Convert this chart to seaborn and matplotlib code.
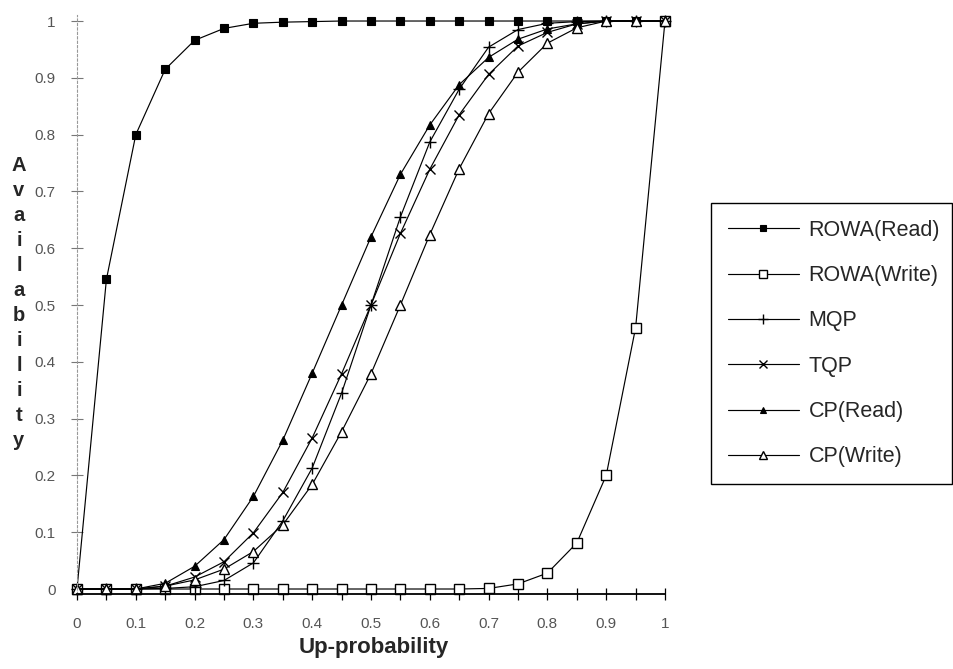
import matplotlib
matplotlib.use("Agg")
import matplotlib.pyplot as plt
import seaborn as sns
import pandas as pd
from matplotlib.ticker import MultipleLocator, FixedLocator

# ---- data ----
up_prob = [0.0, 0.05, 0.10, 0.15, 0.20, 0.25, 0.30, 0.35, 0.40, 0.45, 0.50,
           0.55, 0.60, 0.65, 0.70, 0.75, 0.80, 0.85, 0.90, 0.95, 1.0]

rowa_read = [0.0, 0.545, 0.80, 0.915, 0.966, 0.987, 0.996, 0.998, 0.999, 1.0, 1.0,
             1.0, 1.0, 1.0, 1.0, 1.0, 1.0, 1.0, 1.0, 1.0, 1.0]
rowa_write = [0.0, 0.0, 0.0, 0.0, 0.0, 0.0, 0.0, 0.0, 0.0, 0.0, 0.0,
              0.0, 0.0, 0.0, 0.001, 0.009, 0.028, 0.081, 0.20, 0.46, 1.0]
mqp = [0.0, 0.0, 0.0, 0.001, 0.004, 0.015, 0.046, 0.12, 0.213, 0.345, 0.50,
       0.655, 0.787, 0.88, 0.954, 0.985, 0.996, 0.999, 1.0, 1.0, 1.0]
tqp = [0.0, 0.0, 0.0, 0.005, 0.021, 0.048, 0.099, 0.17, 0.266, 0.379, 0.50,
       0.626, 0.739, 0.835, 0.906, 0.956, 0.98, 0.995, 1.0, 1.0, 1.0]
cp_read = [0.0, 0.0, 0.0, 0.01, 0.04, 0.087, 0.163, 0.262, 0.38, 0.50, 0.62,
           0.73, 0.817, 0.888, 0.936, 0.968, 0.986, 0.995, 1.0, 1.0, 1.0]
cp_write = [0.0, 0.0, 0.0, 0.005, 0.016, 0.035, 0.066, 0.113, 0.184, 0.277, 0.379,
            0.50, 0.624, 0.74, 0.837, 0.91, 0.961, 0.988, 1.0, 1.0, 1.0]

series_names = ["ROWA(Read)", "ROWA(Write)", "MQP", "TQP", "CP(Read)", "CP(Write)"]
series_values = [rowa_read, rowa_write, mqp, tqp, cp_read, cp_write]

x_tick_values = [0.0, 0.1, 0.2, 0.3, 0.4, 0.5, 0.6, 0.7, 0.8, 0.9, 1.0]
x_tick_labels = ["0", "0.1", "0.2", "0.3", "0.4", "0.5", "0.6", "0.7", "0.8", "0.9", "1"]
y_tick_values = [0.0, 0.1, 0.2, 0.3, 0.4, 0.5, 0.6, 0.7, 0.8, 0.9, 1.0]
y_tick_labels = ["0", "0.1", "0.2", "0.3", "0.4", "0.5", "0.6", "0.7", "0.8", "0.9", "1"]

x_title = "Up-probability"
y_title = "Availability"

# ---- styles ----
styles = {
    "ROWA(Read)":  dict(marker="s", ms=5.5, mfc="black", mec="black", mew=0.8),
    "ROWA(Write)": dict(marker="s", ms=7, mfc="white", mec="black", mew=1.0),
    "MQP":         dict(marker="+", ms=8, mfc="black", mec="black", mew=1.0),
    "TQP":         dict(marker="x", ms=7.5, mfc="black", mec="black", mew=1.0),
    "CP(Read)":    dict(marker="^", ms=5.5, mfc="black", mec="black", mew=0.8),
    "CP(Write)":   dict(marker="^", ms=7, mfc="white", mec="black", mew=1.0),
}

sns.set_style("white")
plt.rcParams["font.family"] = ["Liberation Sans", "DejaVu Sans"]

fig = plt.figure(figsize=(9.54, 6.69), dpi=100)
ax = fig.add_axes([77 / 954, 1 - 594 / 669, (665 - 77) / 954, (594 - 15) / 669])

df = pd.DataFrame({
    "p": up_prob * len(series_names),
    "avail": sum(series_values, []),
    "series": [n for n in series_names for _ in up_prob],
})

for name in series_names:
    sub = df[df["series"] == name]
    st = styles[name]
    sns.lineplot(data=sub, x="p", y="avail", ax=ax, color="black", lw=0.85,
                 marker=st["marker"], markersize=st["ms"],
                 markerfacecolor=st["mfc"], markeredgecolor=st["mec"],
                 markeredgewidth=st["mew"], label=name, clip_on=False,
                 estimator=None, sort=False)

ax.set_xlim(0, 1)
ax.set_ylim(-0.0088, 1.0106)

ax.xaxis.set_major_locator(FixedLocator(x_tick_values))
ax.set_xticklabels(x_tick_labels)
ax.xaxis.set_minor_locator(MultipleLocator(0.05))
ax.yaxis.set_major_locator(FixedLocator(y_tick_values))
ax.set_yticklabels(y_tick_labels)

ax.tick_params(axis="x", which="both", direction="inout", length=9, width=0.9,
               color="black", bottom=True)
ax.tick_params(axis="x", which="major", pad=12, labelsize=11, labelcolor="#555555")
ax.tick_params(axis="y", which="major", direction="inout", length=9, width=0.8,
               color="#777777", left=True, pad=11, labelsize=11, labelcolor="#555555")

for side in ["top", "right"]:
    ax.spines[side].set_visible(False)
ax.spines["bottom"].set_color("black")
ax.spines["bottom"].set_linewidth(1.3)
ax.spines["left"].set_color("#999999")
ax.spines["left"].set_linewidth(0.8)
ax.spines["left"].set_linestyle((0, (2, 2)))

ax.set_xlabel("")
ax.set_ylabel("")

fig.text(374 / 954, 1 - 648 / 669, x_title, ha="center", va="center",
         fontsize=16, fontweight="bold")

for i, ch in enumerate(y_title):
    fig.text(19 / 954, 1 - (171 + 25 * i) / 669, ch, ha="center", va="baseline",
             fontsize=14.5, fontweight="bold")

handles, labels = ax.get_legend_handles_labels()
leg = ax.legend(handles, labels, loc="upper left",
                bbox_to_anchor=(711 / 954, 1 - 203 / 669, (952 - 711) / 954, 0),
                bbox_transform=fig.transFigure, mode="expand",
                fontsize=15.5, handlelength=3.3, handletextpad=0.45,
                labelspacing=1.13, borderpad=0.78, borderaxespad=0,
                fancybox=False, framealpha=1, edgecolor="black", markerscale=0.85)
leg.get_frame().set_linewidth(1.0)

fig.savefig("out.png", dpi=100)
